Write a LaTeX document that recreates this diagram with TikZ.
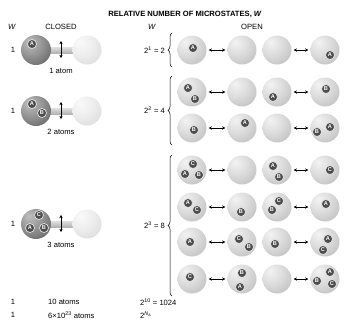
\documentclass[tikz,border=0pt]{standalone}
\usepackage{fontspec}
\setmainfont{Liberation Sans}
\usetikzlibrary{arrows.meta,decorations.pathreplacing,backgrounds}

% sphere shadings, lit from the upper left
\pgfdeclareradialshading{opensphere}{\pgfpoint{-12bp}{14bp}}{%
  color(0bp)=(black!5); color(18bp)=(black!13); color(40bp)=(black!25);
  color(60bp)=(black!33); color(85bp)=(black!38)}
\pgfdeclareradialshading{darksphere}{\pgfpoint{-12bp}{14bp}}{%
  color(0bp)=(black!25); color(20bp)=(black!42); color(45bp)=(black!65);
  color(65bp)=(black!78); color(85bp)=(black!84)}
\pgfdeclareradialshading{lightsphere}{\pgfpoint{-12bp}{14bp}}{%
  color(0bp)=(black!2); color(20bp)=(black!7); color(45bp)=(black!16);
  color(65bp)=(black!24); color(85bp)=(black!28)}

% an atom marker placed relative to a sphere
\newcommand\atm[4]{\node[atom] (#1#2) at ([shift={(#3,#4)}]#1.center) {#2};}

\begin{document}
\begin{tikzpicture}[x=1pt,y=-1pt,
  sph/.style={circle, minimum size=29pt, inner sep=0pt, shade},
  opensph/.style={sph, shading=opensphere},
  darksph/.style={sph, shading=darksphere, minimum size=30pt},
  lightsph/.style={sph, shading=lightsphere},
  atom/.style={circle, fill=black!70, draw=black!10, line width=0.7pt,
    inner sep=0pt, minimum size=9pt, text=white,
    font=\fontsize{5.6}{6}\selectfont\bfseries},
  lbl/.style={font=\fontsize{7.6}{9}\selectfont, inner sep=0pt},
  ttl/.style={font=\fontsize{7.6}{9}\selectfont\bfseries, inner sep=0pt},
  dbl/.style={{Stealth[length=3.2pt,width=3.4pt]}-{Stealth[length=3.2pt,width=3.4pt]},
    line width=0.8pt},
  tube/.style={top color=black!12, bottom color=black!30},
  bracestyle/.style={decorate, decoration={brace, amplitude=4pt}, line width=0.5pt}
]
\useasboundingbox (0,0) rectangle (347,322);

% headings
\node[ttl] (title) at (185,14) {RELATIVE NUMBER OF MICROSTATES, \textit{W}};
\node[lbl] (wc) at (12,27) {\textit{W}};
\node[lbl] (closed) at (61,27) {CLOSED};
\node[lbl] (wo) at (152,27) {\textit{W}};
\node[lbl] (open) at (252,27) {OPEN};

% closed containers: gas on the left, empty bulb on the right
\foreach \r/\y/\txt in {1/50/1 atom, 2/111/2 atoms, 3/224/3 atoms} {
  \node[lbl] (cw\r) at (13,\y) {1};
  \node[darksph] (cd\r) at (36,\y) {};
  \node[lightsph] (cl\r) at (87,\y) {};
  \node[lbl] (cn\r) at (61,\y+21) {\txt};
  \coordinate (vt\r) at (61,\y-9);
  \coordinate (vb\r) at (61,\y+8);
  \begin{pgfonlayer}{background}
    \shade[tube] ([yshift=3pt]cd\r.center) rectangle ([yshift=-3pt]cl\r.center);
  \end{pgfonlayer}
  \draw[dbl] (vt\r) -- (vb\r);
}
\atm{cd1}{A}{-4}{-6}
\atm{cd2}{A}{-4}{-7}
\atm{cd2}{B}{6}{2}
\atm{cd3}{C}{3}{-9}
\atm{cd3}{A}{-6}{4}
\atm{cd3}{B}{8}{4}

% open containers: two pairs of bulbs per row
\foreach \r/\y in {1/50, 2/92, 3/128, 4/170, 5/207, 6/242, 7/279} {
  \node[opensph] (o\r a) at (192,\y) {};
  \node[opensph] (o\r b) at (242,\y) {};
  \node[opensph] (o\r c) at (277,\y) {};
  \node[opensph] (o\r d) at (325,\y) {};
  \draw[dbl, shorten <=2pt, shorten >=2pt] (o\r a) -- (o\r b);
  \draw[dbl, shorten <=2pt, shorten >=2pt] (o\r c) -- (o\r d);
}
% one atom
\atm{o1a}{A}{1}{-2}
\atm{o1d}{A}{5}{5}
% two atoms
\atm{o2a}{A}{-4}{-4}
\atm{o2a}{B}{3}{7}
\atm{o2c}{A}{-4}{5}
\atm{o2d}{B}{1}{-3}
\atm{o3a}{B}{2}{2}
\atm{o3b}{A}{3}{-5}
\atm{o3d}{B}{-8}{4}
\atm{o3d}{A}{5}{-1}
% three atoms
\atm{o4a}{C}{1}{-6}
\atm{o4a}{A}{-7}{4}
\atm{o4a}{B}{7}{5}
\atm{o4c}{A}{-4}{-4}
\atm{o4c}{B}{2}{7}
\atm{o4d}{C}{5}{0}
\atm{o5a}{A}{-4}{-4}
\atm{o5a}{C}{5}{3}
\atm{o5b}{B}{-1}{5}
\atm{o5c}{C}{2}{-6}
\atm{o5c}{B}{-5}{3}
\atm{o5d}{A}{1}{-3}
\atm{o6a}{A}{-2}{0}
\atm{o6b}{C}{-3}{-3}
\atm{o6b}{B}{7}{5}
\atm{o6c}{B}{-2}{2}
\atm{o6d}{A}{3}{-3}
\atm{o6d}{C}{-2}{8}
\atm{o7a}{C}{-2}{-2}
\atm{o7b}{B}{0}{-6}
\atm{o7b}{A}{-2}{8}
\atm{o7d}{A}{5}{-7}
\atm{o7d}{B}{-8}{2}
\atm{o7d}{C}{7}{5}

% counts with braces
\coordinate (b1t) at (172,33);  \coordinate (b1b) at (172,67);
\coordinate (b2t) at (172,76);  \coordinate (b2b) at (172,145);
\coordinate (b3t) at (172,155); \coordinate (b3b) at (172,296);
\draw[bracestyle] (b1b) -- (b1t);
\draw[bracestyle] (b2b) -- (b2t);
\draw[bracestyle] (b3b) -- (b3t);
\node[lbl, anchor=east] (w1) at (165,50) {2\textsuperscript{1} = 2};
\node[lbl, anchor=east] (w2) at (165,110) {2\textsuperscript{2} = 4};
\node[lbl, anchor=east] (w3) at (165,225) {2\textsuperscript{3} = 8};

% larger systems
\node[lbl] (cw4) at (13,302) {1};
\node[lbl, anchor=west] (cn4) at (48,302) {10 atoms};
\node[lbl, anchor=west] (ow4) at (140,302) {2\textsuperscript{10} = 1024};
\node[lbl] (cw5) at (13,315) {1};
\node[lbl, anchor=west] (cn5) at (48,315) {6×10\textsuperscript{23} atoms};
\node[lbl, anchor=west] (ow5) at (140,315) {2\textsuperscript{\textit{N}\textsubscript{A}}};
\end{tikzpicture}
\end{document}
